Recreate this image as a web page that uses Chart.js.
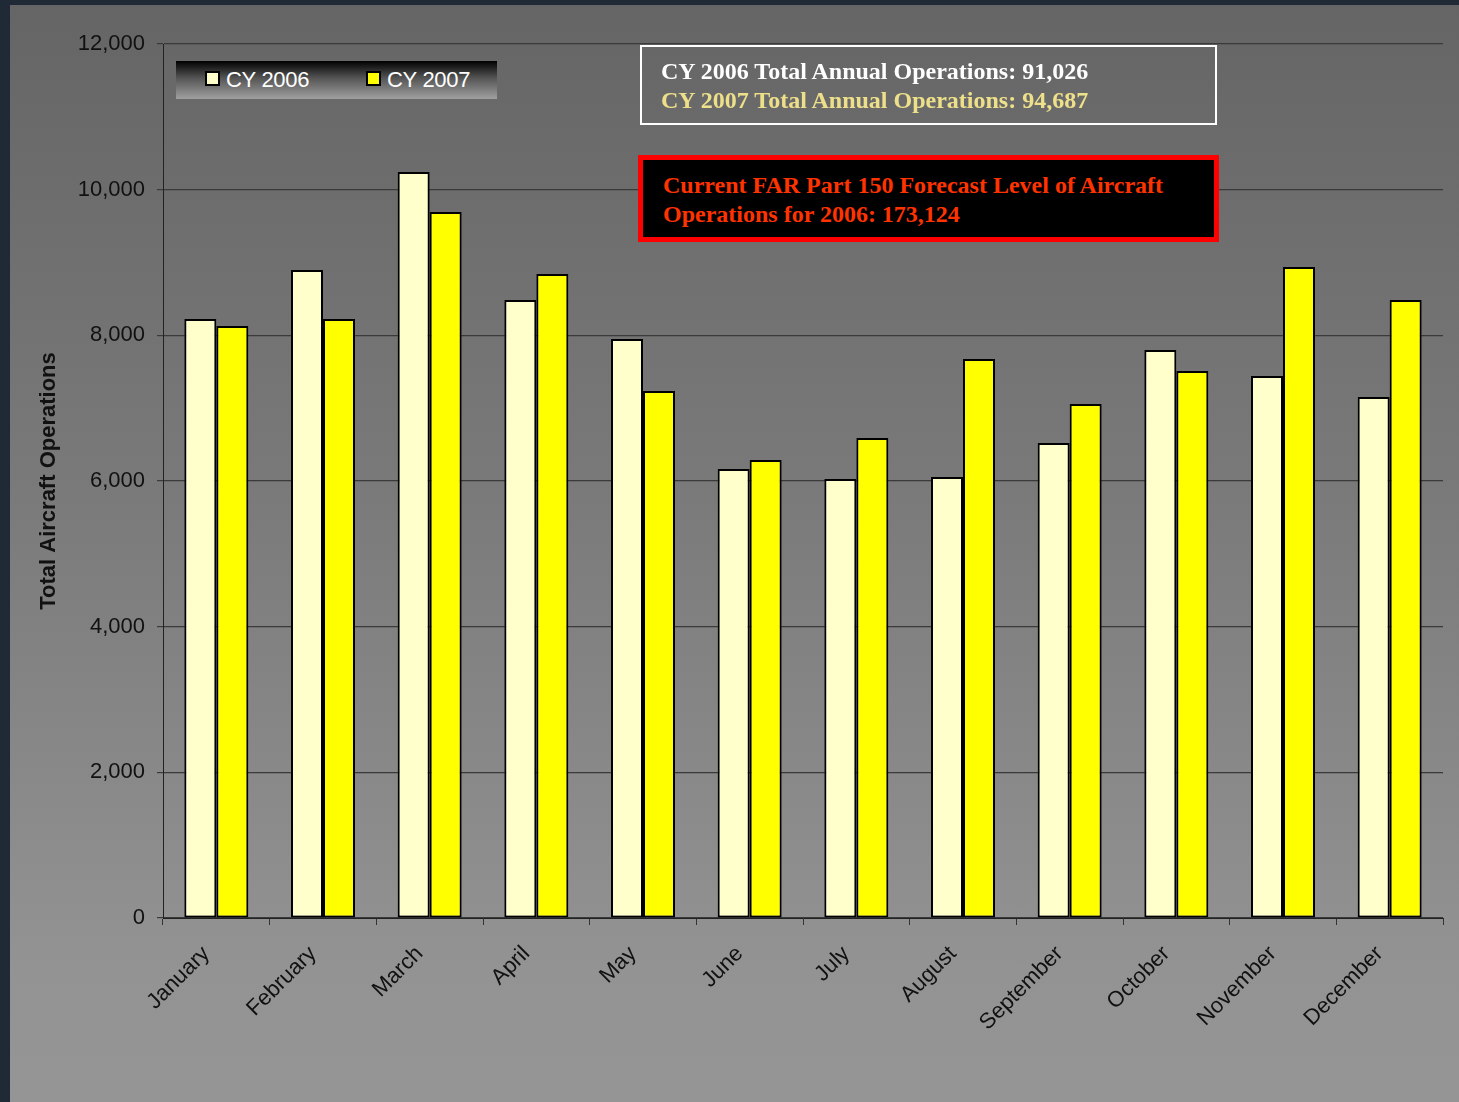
<!DOCTYPE html>
<html>
<head>
<meta charset="utf-8">
<title>Total Aircraft Operations CY 2006 vs CY 2007</title>
<script src="https://cdn.jsdelivr.net/npm/chart.js@4/dist/chart.umd.min.js"></script>
<style>
    html, body { margin: 0; padding: 0; }
    body {
        width: 1459px;
        height: 1102px;
        background: #1f2a36;
        position: relative;
        overflow: hidden;
        font-family: "Liberation Sans", Arial, sans-serif;
    }
    #panel {
        position: absolute;
        left: 10px;
        top: 5px;
        width: 1449px;
        height: 1097px;
        background: linear-gradient(to bottom, #656565 0%, #7a7a7a 45%, #939393 88%, #959595 100%);
    }
    #chartCanvas { position: absolute; left: 0; top: 0; }
    #legendBox {
        position: absolute;
        left: 176px;
        top: 61px;
        width: 321px;
        height: 38px;
        background: linear-gradient(to bottom, #000 0%, #555 45%, #a0a0a0 100%);
        color: #fff;
        font-size: 22px;
    }
    .legend-item { position: absolute; top: 6px; line-height: 26px; letter-spacing: -0.3px; }
    .legend-item span.swatch {
        display: inline-block;
        width: 11px;
        height: 11px;
        border: 2px solid #000;
        margin-right: 6px;
        vertical-align: 1px;
    }
    .note {
        position: absolute;
        font-family: "Liberation Serif", "Times New Roman", serif;
        font-weight: bold;
        font-size: 24px;
        line-height: 29px;
        box-sizing: border-box;
    }
    #totalsBox {
        left: 640px;
        top: 45px;
        width: 577px;
        height: 80px;
        border: 2px solid #fff;
        padding: 10px 0 0 19px;
        color: #fff;
    }
    #totalsBox .y2007 { color: #eee08a; }
    #forecastBox {
        left: 638px;
        top: 155px;
        width: 581px;
        height: 87px;
        border: 5px solid #ff0000;
        background: #000;
        padding: 11px 0 0 20px;
        color: #ff3300;
    }
</style>
</head>
<body>
<div id="panel"></div>
<canvas id="chartCanvas" width="1459" height="1102"></canvas>

<div id="legendBox">
    <div class="legend-item" style="left: 29px;"><span class="swatch" style="background:#ffffcc"></span>CY 2006</div>
    <div class="legend-item" style="left: 190px;"><span class="swatch" style="background:#ffff00"></span>CY 2007</div>
</div>

<div id="totalsBox" class="note">
    <div>CY 2006 Total Annual Operations: 91,026</div>
    <div class="y2007">CY 2007 Total Annual Operations: 94,687</div>
</div>

<div id="forecastBox" class="note">
    <div>Current FAR Part 150 Forecast Level of Aircraft</div>
    <div>Operations for 2006: 173,124</div>
</div>

<script>
// Chart data
const months = ['January', 'February', 'March', 'April', 'May', 'June',
    'July', 'August', 'September', 'October', 'November', 'December'];
const ops2006 = [8225, 8897, 10243, 8486, 7950, 6165, 6028, 6055, 6522, 7799, 7442, 7154];
const ops2007 = [8128, 8225, 9694, 8843, 7236, 6289, 6591, 7676, 7058, 7511, 8939, 8486];
const yMin = 0;
const yMax = 12000;
const yStep = 2000;

const textColor = '#111';
const fontFamily = '"Liberation Sans", Arial, sans-serif';

let opsChart = null;

document.addEventListener('DOMContentLoaded', () => {
    createOpsChart();
});

// Build the grouped bar chart
function createOpsChart() {
    const ctx = document.getElementById('chartCanvas').getContext('2d');

    opsChart = new Chart(ctx, {
        type: 'bar',
        data: {
            labels: months,
            datasets: [
                {
                    label: 'CY 2006',
                    data: ops2006,
                    backgroundColor: '#ffffcc',
                    borderColor: '#000',
                    borderWidth: 2,
                    borderSkipped: false
                },
                {
                    label: 'CY 2007',
                    data: ops2007,
                    backgroundColor: '#ffff00',
                    borderColor: '#000',
                    borderWidth: 2,
                    borderSkipped: false
                }
            ]
        },
        options: {
            responsive: false,
            animation: false,
            devicePixelRatio: 1,
            layout: {
                padding: { left: 0, top: 44, right: 16, bottom: 0 }
            },
            datasets: {
                bar: { categoryPercentage: 0.6, barPercentage: 1.0 }
            },
            plugins: {
                legend: { display: false },
                tooltip: { enabled: false }
            },
            scales: {
                x: {
                    afterFit: (scale) => { scale.height = 184; },
                    grid: {
                        drawOnChartArea: false,
                        drawTicks: true,
                        tickLength: 7,
                        color: '#333'
                    },
                    border: { display: true, color: '#222', width: 1 },
                    ticks: {
                        color: textColor,
                        font: { family: fontFamily, size: 22 },
                        minRotation: 45,
                        maxRotation: 45,
                        padding: 16,
                        labelOffset: -10,
                        autoSkip: false
                    }
                },
                y: {
                    min: yMin,
                    max: yMax,
                    afterFit: (scale) => { scale.width = 163; },
                    grid: {
                        color: '#3a3a3a',
                        lineWidth: 1.2,
                        drawTicks: true,
                        tickLength: 6
                    },
                    border: { display: true, color: '#222', width: 1 },
                    ticks: {
                        stepSize: yStep,
                        color: textColor,
                        font: { family: fontFamily, size: 22 },
                        padding: 12,
                        callback: (value) => value.toLocaleString('en-US')
                    },
                    title: {
                        display: true,
                        text: 'Total Aircraft Operations',
                        color: textColor,
                        font: { family: fontFamily, size: 22, weight: 'bold' },
                        padding: { top: 36, bottom: 0 }
                    }
                }
            }
        }
    });
}
</script>
</body>
</html>
